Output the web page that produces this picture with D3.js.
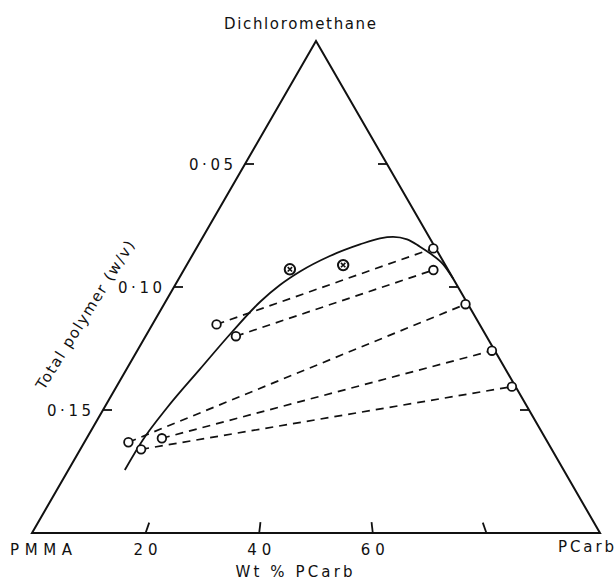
<!DOCTYPE html>
<html>
<head>
<meta charset="utf-8">
<script src="https://cdn.jsdelivr.net/npm/d3@7"></script>
<style>
  html, body { margin: 0; padding: 0; background: #fff; }
  svg text { font-family: "DejaVu Sans", sans-serif; fill: #111; }
</style>
</head>
<body>
<svg id="chart" width="616" height="581"></svg>
<script>
// Ternary phase diagram: PMMA / PCarb / dichloromethane.
// Each point: weight % PCarb in the polymer, and total polymer (w/v).

// Axis ticks
const polymerTicks = [0.05, 0.10, 0.15];
const polymerTickLabels = ["0·05", "0·10", "0·15"];
const pcarbTicks = [20, 40, 60, 80];
const pcarbTickLabels = ["20", "40", "60", ""];

// Binodal (solid curve)
const binodalPcarb   = [11.4, 12.4, 14.8, 19.4, 25.0, 31.4, 37.2, 44.0, 55.6, 68.7, 78.1, 84.1, 89.8, 93.8, 96.5, 99.3, 100];
const binodalPolymer = [0.1744, 0.1622, 0.1492, 0.1333, 0.1183, 0.1061, 0.0992, 0.0937, 0.0874, 0.0827, 0.0802, 0.0796, 0.0806, 0.0836, 0.0863, 0.0907, 0.0967];

// Tie lines: PMMA-rich phase (left end) and PCarb-rich phase (right end)
const pmmaPhasePcarb    = [19.6, 26.5, 9.5, 16.4, 12.9];
const pmmaPhasePolymer  = [0.1152, 0.1200, 0.1631, 0.1615, 0.1660];
const pcarbPhasePcarb   = [99.0, 94.4, 99.2, 99.2, 99.1];
const pcarbPhasePolymer = [0.0843, 0.0931, 0.1070, 0.1259, 0.1405];

// Single-phase (crossed) points
const singlePcarb   = [40.1, 60.5];
const singlePolymer = [0.0928, 0.0911];

const svg = d3.select("#chart");

// Triangle geometry
const apex = { x: 316, y: 41 };
const baseY = 533, leftX = 32, rightX = 600;

// Total polymer runs from 0 at the solvent apex to 0.20 at the base
const yScale = d3.scaleLinear().domain([0, 0.2]).range([apex.y, baseY]);
// Polymer composition along the base
const xBase = d3.scaleLinear().domain([0, 100]).range([leftX, rightX]);

function project(pcarb, polymer) {
  const y = yScale(polymer);
  const t = (y - apex.y) / (baseY - apex.y);
  const x = apex.x + t * (xBase(pcarb) - apex.x);
  return [x, y];
}

const ink = "#111";

// Triangle outline
svg.append("path")
  .attr("d", `M${leftX},${baseY} L${apex.x},${apex.y} L${rightX},${baseY} Z`)
  .attr("fill", "none").attr("stroke", ink).attr("stroke-width", 2)
  .attr("stroke-linejoin", "miter");

// Polymer ticks on both sides
polymerTicks.forEach((p, i) => {
  const [lx, ly] = project(0, p);
  const [rx, ry] = project(100, p);
  svg.append("line").attr("x1", lx).attr("y1", ly).attr("x2", lx + 9).attr("y2", ly)
    .attr("stroke", ink).attr("stroke-width", 1.8);
  svg.append("line").attr("x1", rx).attr("y1", ry).attr("x2", rx - 9).attr("y2", ry)
    .attr("stroke", ink).attr("stroke-width", 1.8);
  svg.append("text")
    .attr("x", lx - 12).attr("y", ly + 6)
    .attr("text-anchor", "end")
    .attr("font-size", 15)
    .attr("textLength", 44).attr("lengthAdjust", "spacing")
    .text(polymerTickLabels[i]);
});

// PCarb ticks along the base, pointing toward the apex
pcarbTicks.forEach((w, i) => {
  const bx = xBase(w);
  const dx = apex.x - bx, dy = apex.y - baseY;
  const len = Math.hypot(dx, dy);
  svg.append("line")
    .attr("x1", bx).attr("y1", baseY)
    .attr("x2", bx + dx / len * 11).attr("y2", baseY + dy / len * 11)
    .attr("stroke", ink).attr("stroke-width", 1.8);
  if (pcarbTickLabels[i]) {
    svg.append("text")
      .attr("x", bx).attr("y", 555)
      .attr("text-anchor", "middle")
      .attr("font-size", 15)
      .attr("textLength", 24).attr("lengthAdjust", "spacing")
      .text(pcarbTickLabels[i]);
  }
});

// Binodal curve
const curvePts = binodalPcarb.map((w, i) => project(w, binodalPolymer[i]));
svg.append("path")
  .attr("d", d3.line().curve(d3.curveMonotoneX)(curvePts))
  .attr("fill", "none").attr("stroke", ink).attr("stroke-width", 1.8);

// Tie lines
const ties = pmmaPhasePcarb.map((w, i) => ({
  a: project(w, pmmaPhasePolymer[i]),
  b: project(pcarbPhasePcarb[i], pcarbPhasePolymer[i])
}));
svg.append("g").selectAll("line").data(ties).join("line")
  .attr("x1", d => d.a[0]).attr("y1", d => d.a[1])
  .attr("x2", d => d.b[0]).attr("y2", d => d.b[1])
  .attr("stroke", ink).attr("stroke-width", 1.7)
  .attr("stroke-dasharray", "8,6");

// Open circles at the ends of each tie line
const phasePts = ties.flatMap(d => [d.a, d.b]);
svg.append("g").selectAll("circle").data(phasePts).join("circle")
  .attr("cx", d => d[0]).attr("cy", d => d[1]).attr("r", 4.3)
  .attr("fill", "#fff").attr("stroke", ink).attr("stroke-width", 1.8);

// Crossed circles
const singlePts = singlePcarb.map((w, i) => project(w, singlePolymer[i]));
const cross = svg.append("g").selectAll("g").data(singlePts).join("g")
  .attr("transform", d => `translate(${d[0]},${d[1]})`);
cross.append("circle").attr("r", 5.2)
  .attr("fill", "#fff").attr("stroke", ink).attr("stroke-width", 2);
cross.append("path").attr("d", "M-2.2,-2.2L2.2,2.2M-2.2,2.2L2.2,-2.2")
  .attr("stroke", ink).attr("stroke-width", 1.6);

// Vertex and axis labels
svg.append("text").attr("x", 300).attr("y", 29).attr("text-anchor", "middle")
  .attr("font-size", 15).attr("textLength", 152).attr("lengthAdjust", "spacing")
  .text("Dichloromethane");
svg.append("text").attr("x", 10).attr("y", 555)
  .attr("font-size", 15).attr("textLength", 62).attr("lengthAdjust", "spacing")
  .text("PMMA");
svg.append("text").attr("x", 558).attr("y", 552)
  .attr("font-size", 15).attr("textLength", 56).attr("lengthAdjust", "spacing")
  .text("PCarb");
svg.append("text").attr("x", 294).attr("y", 577).attr("text-anchor", "middle")
  .attr("font-size", 15).attr("textLength", 117).attr("lengthAdjust", "spacing")
  .text("Wt % PCarb");
svg.append("text")
  .attr("transform", "translate(85,315) rotate(-58)")
  .attr("text-anchor", "middle").attr("dy", "0.35em")
  .attr("font-size", 15).attr("textLength", 172).attr("lengthAdjust", "spacing")
  .text("Total polymer (w/v)");
</script>
</body>
</html>
